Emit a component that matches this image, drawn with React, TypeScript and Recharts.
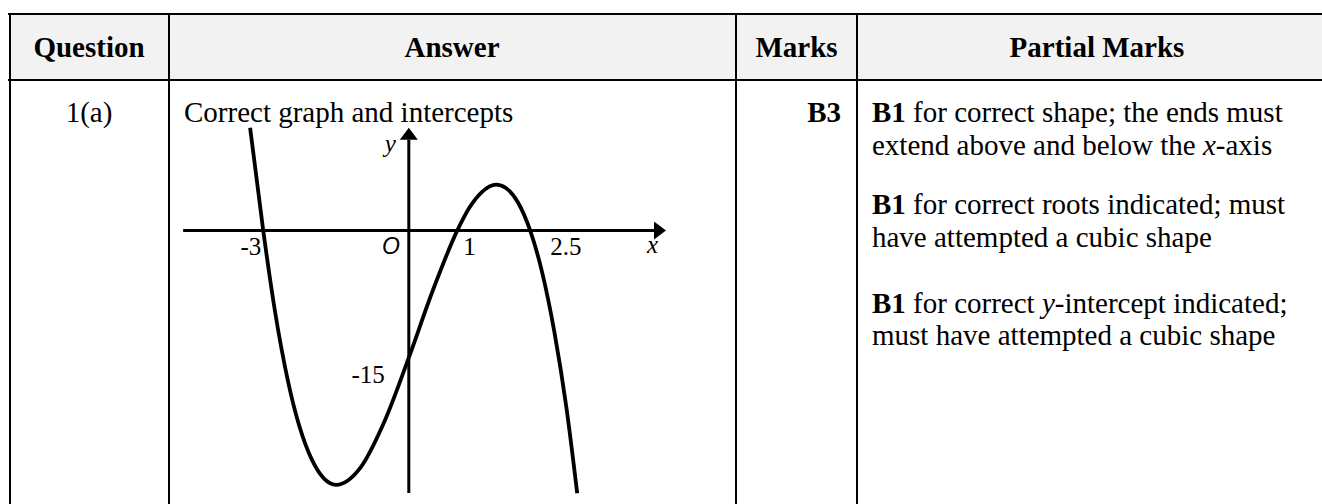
import { LineChart, Line, XAxis, YAxis, ReferenceLine, ReferenceDot } from 'recharts';

// curve (x in units, y in units)
const curveX = [-3.27, -3, -2.75, -2.5, -2, -1.5, -1, -0.5, 0, 0.5, 1, 1.25, 1.5, 1.8, 2, 2.25, 2.5, 2.75, 3, 3.25, 3.47];
const curveY = [12.1, 0, -9.8, -17.5, -27, -30, -28, -22.5, -15, -7, 0, 2.7, 4.5, 5.4, 5, 3.3, 0, -5, -12, -21, -31];

const rootValues = [-3, 1, 2.5];
const rootLabels = ['-3', '1', '2.5'];
const interceptValue = -15;
const interceptLabel = '-15';

const xDomain: [number, number] = [-4.9, 6.0];
const yDomain: [number, number] = [-32.5, 15.5];
const xAxisEnds = [-4.65, 5.3];
const yAxisEnds = [-30.97, 12.1];

const headers = ['Question', 'Answer', 'Marks', 'Partial Marks'];

const data = curveX.map((x, i) => ({ x, y: curveY[i] }));

const serif = "'Liberation Serif', 'Times New Roman', serif";

function Arrow(props: any) {
  const { x1, y1, x2, y2 } = props;
  const dx = x2 - x1;
  const dy = y2 - y1;
  const len = Math.hypot(dx, dy) || 1;
  const ux = dx / len;
  const uy = dy / len;
  const head = 12;
  const half = 9;
  const bx = x2 - ux * head;
  const by = y2 - uy * head;
  const pts = `${x2},${y2} ${bx - uy * half},${by + ux * half} ${bx + uy * half},${by - ux * half}`;
  return (
    <g>
      <line x1={x1} y1={y1} x2={bx} y2={by} stroke="#000" strokeWidth={3} />
      <polygon points={pts} fill="#000" />
    </g>
  );
}

const label = (text: string, dx: number, dy: number, anchor: string, extra: any = {}) => (p: any) => {
  const vb = p.viewBox || {};
  const cx = (vb.x ?? 0) + (vb.width ?? 0) / 2;
  const cy = (vb.y ?? 0) + (vb.height ?? 0) / 2;
  return (
    <text x={cx + dx} y={cy + dy} textAnchor={anchor} fontFamily={serif} fontSize={25} fill="#000" {...extra}>
      {text}
    </text>
  );
};

// label offsets for each root, as drawn beside the crossings
const rootOffsets = [
  { dx: -2, anchor: 'end' },
  { dx: 6, anchor: 'start' },
  { dx: 20, anchor: 'start' },
];

function Graph() {
  return (
    <div style={{ position: 'absolute', left: 171, top: 99 }}>
      <LineChart width={529} height={407} data={data} margin={{ top: 0, right: 0, bottom: 0, left: 0 }} style={{ overflow: 'visible' }}>
        <XAxis type="number" dataKey="x" domain={xDomain} hide allowDataOverflow />
        <YAxis type="number" domain={yDomain} hide allowDataOverflow />
        <ReferenceLine segment={[{ x: xAxisEnds[0], y: 0 }, { x: xAxisEnds[1], y: 0 }]} shape={Arrow} />
        <ReferenceLine segment={[{ x: 0, y: yAxisEnds[0] }, { x: 0, y: yAxisEnds[1] }]} shape={Arrow} />
        <Line
          type="monotoneX"
          dataKey="y"
          stroke="#000"
          strokeWidth={3.8}
          strokeLinejoin="round"
          dot={false}
          isAnimationActive={false}
        />
        {rootValues.map((v, i) => (
          <ReferenceDot
            key={v}
            x={v}
            y={0}
            r={0}
            fill="none"
            stroke="none"
            label={label(rootLabels[i], rootOffsets[i].dx, 25, rootOffsets[i].anchor)}
          />
        ))}
        <ReferenceDot x={0} y={interceptValue} r={0} fill="none" stroke="none" label={label(interceptLabel, -24, 25, 'end')} />
        <ReferenceDot
          x={0}
          y={0}
          r={0}
          fill="none"
          stroke="none"
          label={label('O', -9, 24, 'end', { fontFamily: "'Liberation Sans', Arial, sans-serif", fontStyle: 'italic', fontSize: 23 })}
        />
        <ReferenceDot x={xAxisEnds[1]} y={0} r={0} fill="none" stroke="none" label={label('x', -19, 23, 'start', { fontStyle: 'italic' })} />
        <ReferenceDot x={0} y={yAxisEnds[1]} r={0} fill="none" stroke="none" label={label('y', -24, 24, 'start', { fontStyle: 'italic' })} />
      </LineChart>
    </div>
  );
}

function Table() {
  const t = { fontFamily: serif, fontSize: 29, fill: '#000' };
  return (
    <svg width={1322} height={504} style={{ position: 'absolute', left: 0, top: 0 }}>
      <rect x={10} y={14} width={1330} height={65} fill="#f2f2f2" />
      <rect x={8} y={13} width={1340} height={2} fill="#000" />
      <rect x={8} y={79} width={1340} height={2} fill="#000" />
      <rect x={9} y={13} width={2} height={500} fill="#000" />
      <rect x={168} y={13} width={2} height={500} fill="#000" />
      <rect x={735} y={13} width={2} height={500} fill="#000" />
      <rect x={856} y={13} width={2} height={500} fill="#000" />

      <text x={89} y={57} textAnchor="middle" fontWeight="bold" {...t}>{headers[0]}</text>
      <text x={452} y={57} textAnchor="middle" fontWeight="bold" {...t}>{headers[1]}</text>
      <text x={796.5} y={57} textAnchor="middle" fontWeight="bold" {...t}>{headers[2]}</text>
      <text x={1097} y={57} textAnchor="middle" fontWeight="bold" {...t}>{headers[3]}</text>

      <text x={89} y={122} textAnchor="middle" {...t}>1(a)</text>
      <text x={184} y={122} {...t}>Correct graph and intercepts</text>
      <text x={841} y={122} textAnchor="end" fontWeight="bold" {...t}>B3</text>

      <text x={872} y={122} {...t}><tspan fontWeight="bold">B1</tspan>{' for correct shape; the ends must'}</text>
      <text x={872} y={155} {...t}>{'extend above and below the '}<tspan fontStyle="italic">x</tspan>-axis</text>
      <text x={872} y={214} {...t}><tspan fontWeight="bold">B1</tspan>{' for correct roots indicated; must'}</text>
      <text x={872} y={247} {...t}>have attempted a cubic shape</text>
      <text x={872} y={313} {...t}><tspan fontWeight="bold">B1</tspan>{' for correct '}<tspan fontStyle="italic">y</tspan>-intercept indicated;</text>
      <text x={872} y={345} {...t}>must have attempted a cubic shape</text>
    </svg>
  );
}

export default function App() {
  return (
    <div style={{ position: 'absolute', left: 0, top: 0, width: 1322, height: 504, overflow: 'hidden', background: '#fff' }}>
      <Table />
      <Graph />
    </div>
  );
}
